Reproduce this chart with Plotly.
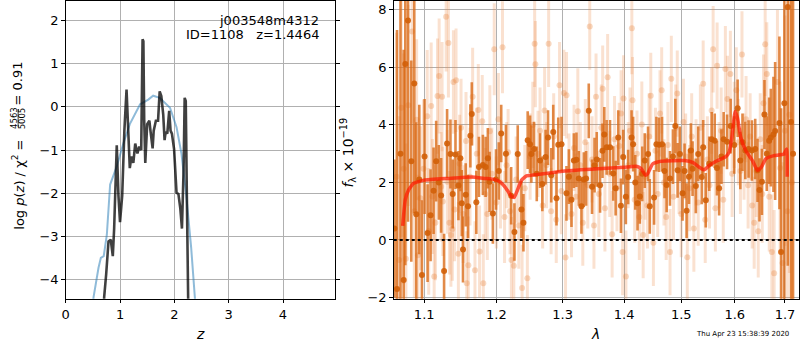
import plotly.graph_objects as go

W, H = 800, 350

# ---------------- left panel: log p(z) ----------------
z_pz = [0.690, 0.708, 0.745, 0.788, 0.830, 0.867, 0.892, 0.940, 0.971, 1.000, 1.040,
        1.080, 1.120, 1.150, 1.180, 1.210, 1.245, 1.280, 1.320, 1.355, 1.390, 1.415,
        1.430, 1.445, 1.465, 1.500, 1.540, 1.560, 1.600, 1.620, 1.660, 1.700, 1.730,
        1.760, 1.795, 1.820, 1.840, 1.870, 1.905, 1.930, 1.955, 1.995, 2.040, 2.075,
        2.110, 2.140, 2.170, 2.190, 2.210, 2.230, 2.250, 2.270]
logp_pz = [-5.5, -4.41, -3.88, -3.12, -3.08, -3.46, -2.82, -0.89, -2.06, -2.67, -2.06,
           -0.55, 0.40, -0.55, -1.42, -1.15, -1.30, -0.85, -1.08, -0.92, -1.00, 1.57,
           1.52, -0.30, -1.30, -0.40, -0.32, -0.55, -0.96, -0.55, -0.32, -0.32, 0.36,
           0.25, -0.17, -0.77, -0.58, -0.62, -0.09, -0.55, -0.62, -0.98, -1.99, -2.02,
           -2.36, -2.82, -1.45, 0.21, 0.14, -2.06, -4.41, -6.0]

z_prior = [0.48, 0.513, 0.604, 0.647, 0.700, 0.757, 0.818, 0.940, 1.060, 1.180, 1.370,
           1.520, 1.610, 1.730, 1.920, 2.040, 2.130, 2.220, 2.310, 2.370, 2.400]
logp_prior = [-4.8, -4.41, -3.73, -3.50, -3.46, -2.97, -1.80, -1.38, -0.85, -0.40, 0.06,
              0.17, 0.26, 0.21, -0.02, -0.47, -1.08, -2.06, -3.27, -4.41, -4.8]

z_ticks = [0, 1, 2, 3, 4]
logp_ticks = [-4, -3, -2, -1, 0, 1, 2]

# ---------------- right panel: spectrum ----------------
lam_light = [1.0640, 1.0672, 1.0700, 1.0731, 1.0760, 1.0790, 1.0840, 1.0870, 1.0900, 1.0917,
             1.0950, 1.0990, 1.1040, 1.1060, 1.1093, 1.1110, 1.1133, 1.1150, 1.1178, 1.1200,
             1.1227, 1.1240, 1.1250, 1.1295, 1.1310, 1.1326, 1.1340, 1.1360, 1.1380, 1.1395,
             1.1410, 1.1431, 1.1463, 1.1480, 1.1500, 1.1530, 1.1569, 1.1579, 1.1602, 1.1625,
             1.1662, 1.1695, 1.1720, 1.1742, 1.1760, 1.1798, 1.1813, 1.1840, 1.1870, 1.1907,
             1.1935, 1.1970, 1.2000, 1.2030, 1.2060, 1.2090, 1.2120, 1.2150, 1.2172, 1.2200,
             1.2221, 1.2256, 1.2290, 1.2330, 1.2379, 1.2420, 1.2458, 1.2500, 1.2540, 1.2568,
             1.2579, 1.2619, 1.2650, 1.2690, 1.2720, 1.2750, 1.2782, 1.2820, 1.2860, 1.2900,
             1.2951, 1.2980, 1.3019, 1.3045, 1.3061, 1.3100, 1.3140, 1.3180, 1.3210, 1.3240,
             1.3280, 1.3320, 1.3360, 1.3400, 1.3432, 1.3470, 1.3500, 1.3534, 1.3580, 1.3620,
             1.3643, 1.3680, 1.3725, 1.3760, 1.3800, 1.3840, 1.3880, 1.3919, 1.3950, 1.3975,
             1.3991, 1.4031, 1.4070, 1.4100, 1.4132, 1.4143, 1.4180, 1.4220, 1.4260, 1.4303,
             1.4326, 1.4360, 1.4400, 1.4430, 1.4458, 1.4504, 1.4540, 1.4580, 1.4620, 1.4650,
             1.4690, 1.4730, 1.4760, 1.4798, 1.4821, 1.4860, 1.4900, 1.4928, 1.4960, 1.5000,
             1.5040, 1.5080, 1.5110, 1.5150, 1.5190, 1.5230, 1.5270, 1.5310, 1.5350, 1.5402,
             1.5440, 1.5480, 1.5520, 1.5560, 1.5588, 1.5630, 1.5663, 1.5700, 1.5740, 1.5780,
             1.5820, 1.5860, 1.5916, 1.5950, 1.5990, 1.6030, 1.6070, 1.6110, 1.6140, 1.6180,
             1.6220, 1.6260, 1.6300, 1.6340, 1.6380, 1.6420, 1.6460, 1.6500, 1.6540, 1.6565,
             1.6598, 1.6631, 1.6680, 1.6732, 1.6779, 1.6846, 1.6900, 1.6950, 1.7000, 1.7050,
             1.7090, 1.7140]
f_light = [2.2, -0.7, 4.6, 2.48, -0.65, 4.68, 7.25, 1.0, 4.18, -0.53,
           1.45, 2.48, 4.30, 0.3, 4.66, 1.51, -1.27, 0.6, 5.0, 5.70,
           1.85, 4.98, 1.34, 7.76, 2.02, 6.85, 0.60, 0.17, 0.38, 5.49,
           1.06, 5.55, -0.48, 2.65, 3.9, 0.9, 3.44, -1.5, -0.88, 2.2,
           4.98, -1.05, 3.0, 4.52, -0.40, 4.13, -1.5, 1.6, 0.9, 3.78,
           2.3, 6.63, 1.3, 4.2, 2.0, 6.70, 0.8, 2.6, 3.05, 1.0,
           -0.7, -0.9, 2.1, 0.5, -1.67, 1.8, -1.33, 2.9, 4.0, 6.82,
           6.11, 2.99, 3.8, 1.2, 4.5, 2.6, 6.82, 1.0, 3.6, 0.7,
           5.38, 1.7, 5.11, -0.61, 5.03, 2.2, 0.9, 3.2, 1.5, 4.47,
           2.6, 0.6, 3.4, 1.9, 7.42, 2.8, 0.5, 4.98, 1.6, 3.9,
           5.26, 1.1, 5.66, 2.3, 0.2, 3.5, 1.8, 3.27, 4.4, -0.42,
           4.92, -1.27, 2.6, 3.8, 7.36, 4.86, 1.4, 3.0, 0.8, 4.01,
           0.17, 2.2, 1.2, 3.6, 5.01, -0.1, 3.1, 1.6, 4.4, 5.20,
           2.0, 0.8, 3.3, -0.42, 5.60, 1.5, 3.9, 5.09, 2.4, 0.9,
           4.1, 2.9, -0.6, 1.8, 3.6, 0.4, 2.7, 1.3, 3.9, 5.43,
           0.7, 2.8, 1.9, 4.5, 6.63, 1.1, 6.06, 2.6, 3.8, 1.4,
           5.94, 4.9, 5.77, 2.3, 4.0, 5.2, 3.4, 2.4, 6.45, 2.9,
           4.2, 1.9, 3.6, 1.2, 0.6, 2.4, 0.3, 3.5, 1.6, 4.75,
           6.80, 5.77, 1.5, -0.42, -1.16, 5.49, 2.5, -0.8, 3.8, 1.0,
           4.35, 2.0]
e_light = [5.0, 5.0, 4.5, 4.0, 4.0, 3.5, 3.2, 3.0, 2.8, 2.8,
           2.5, 2.4, 2.3, 2.2, 2.2, 2.0, 2.0, 2.0, 2.0, 2.0,
           1.9, 1.9, 1.9, 1.9, 1.8, 1.9, 1.8, 1.8, 1.8, 1.8,
           1.8, 1.8, 1.8, 1.7, 1.7, 1.7, 1.7, 1.8, 1.7, 1.7,
           1.7, 1.7, 1.6, 1.6, 1.6, 1.6, 1.7, 1.6, 1.6, 1.6,
           1.6, 1.6, 1.6, 1.6, 1.6, 1.6, 1.6, 1.5, 1.5, 1.5,
           1.5, 1.5, 1.5, 1.5, 1.5, 1.5, 1.5, 1.5, 1.5, 1.5,
           1.5, 1.5, 1.5, 1.5, 1.5, 1.5, 1.5, 1.5, 1.5, 1.5,
           1.5, 1.5, 1.5, 1.5, 1.5, 1.5, 1.5, 1.5, 1.5, 1.5,
           1.5, 1.5, 1.5, 1.5, 1.5, 1.5, 1.5, 1.5, 1.5, 1.5,
           1.5, 1.5, 1.5, 1.5, 1.5, 1.5, 1.5, 1.5, 1.5, 1.5,
           1.5, 1.6, 1.5, 1.5, 1.6, 1.5, 1.5, 1.5, 1.5, 1.5,
           1.5, 1.5, 1.5, 1.5, 1.5, 1.5, 1.5, 1.5, 1.5, 1.5,
           1.5, 1.5, 1.5, 1.5, 1.5, 1.5, 1.5, 1.5, 1.5, 1.5,
           1.5, 1.5, 1.5, 1.5, 1.5, 1.5, 1.5, 1.5, 1.5, 1.5,
           1.5, 1.5, 1.5, 1.5, 1.5, 1.5, 1.5, 1.5, 1.5, 1.5,
           1.5, 1.5, 1.5, 1.5, 1.5, 1.5, 1.5, 1.5, 1.5, 1.5,
           1.5, 1.5, 1.5, 1.5, 1.6, 1.6, 1.6, 1.6, 1.7, 1.7,
           1.8, 1.8, 1.9, 2.0, 2.2, 2.5, 3.0, 3.5, 4.0, 5.0,
           5.5, 6.0]

lam_dark = [1.0612, 1.0645, 1.0690, 1.0731, 1.0752, 1.0787, 1.0830, 1.0869, 1.0895, 1.0935,
            1.0970, 1.1005, 1.1045, 1.1085, 1.1125, 1.1160, 1.1195, 1.1227, 1.1267, 1.1308,
            1.1354, 1.1385, 1.1423, 1.1464, 1.1491, 1.1510, 1.1527, 1.1565, 1.1597, 1.1630,
            1.1650, 1.1714, 1.1751, 1.1807, 1.1846, 1.1878, 1.1903, 1.1950, 1.1995, 1.2036,
            1.2071, 1.2140, 1.2217, 1.2265, 1.2314, 1.2369, 1.2399, 1.2463, 1.2499, 1.2518,
            1.2559, 1.2600, 1.2650, 1.2685, 1.2735, 1.2772, 1.2822, 1.2853, 1.2904, 1.2931,
            1.2982, 1.3060, 1.3098, 1.3139, 1.3177, 1.3218, 1.3256, 1.3298, 1.3336, 1.3373,
            1.3416, 1.3469, 1.3510, 1.3546, 1.3600, 1.3640, 1.3670, 1.3709, 1.3764, 1.3818,
            1.3858, 1.3902, 1.3947, 1.3985, 1.4030, 1.4069, 1.4127, 1.4154, 1.4190, 1.4229,
            1.4268, 1.4310, 1.4354, 1.4411, 1.4441, 1.4516, 1.4557, 1.4603, 1.4656, 1.4700,
            1.4738, 1.4797, 1.4850, 1.4893, 1.4934, 1.4976, 1.5024, 1.5060, 1.5097, 1.5140,
            1.5175, 1.5206, 1.5266, 1.5310, 1.5376, 1.5402, 1.5450, 1.5514, 1.5562, 1.5618,
            1.5660, 1.5701, 1.5745, 1.5788, 1.5852, 1.5921, 1.5990, 1.6056, 1.6108, 1.6150,
            1.6205, 1.6269, 1.6335, 1.6400, 1.6446, 1.6485, 1.6533, 1.6584, 1.6630, 1.6678,
            1.6712, 1.6765, 1.6799, 1.6886, 1.6920, 1.6987, 1.7057, 1.7124, 1.7166]
f_dark = [0.4, -1.70, 3.0, -1.39, 6.12, 7.63, 2.74, 5.44, 0.89, 2.1,
          -1.22, 2.9, 0.24, 0.86, 1.71, 2.74, 2.0, 1.55, -1.08, 3.35,
          2.99, 1.6, 2.97, 1.89, 2.84, 1.28, -0.33, 1.57, 1.17, 3.62,
          4.38, 1.31, 2.54, 2.61, 2.54, 2.84, 2.02, 0.92, 2.1, 2.40,
          3.70, 3.0, 1.54, 0.28, 2.99, 1.06, 0.60, 3.47, 3.33, 2.99,
          3.16, 2.3, 2.76, 1.95, 2.88, 3.56, 2.25, 3.75, 1.45, 3.31,
          3.33, 1.62, 2.2, 1.40, 2.76, 2.79, 2.14, 1.17, 2.10, 2.14,
          4.49, 1.85, 2.6, 2.80, 1.9, 3.1, 3.67, 3.22, 3.22, 2.31,
          1.80, 3.56, 1.19, 2.88, 1.5, 2.19, 3.56, 3.33, 2.0, 1.28,
          1.51, 2.3, 2.76, 2.99, 1.17, 1.48, 3.33, 3.31, 3.33, 2.4,
          1.91, 2.14, 2.9, 3.96, 2.42, 2.99, 1.62, 2.4, 1.02, 2.2,
          3.11, 2.48, 1.88, 2.99, 2.19, 3.22, 1.38, 2.65, 3.50, 3.45,
          2.5, 1.80, 2.9, 3.50, 3.41, 3.96, 3.3, 4.58, 2.76, 3.4,
          3.11, 3.16, 3.11, 3.16, 2.42, 1.74, 2.02, 4.36, 3.0, 3.45,
          3.56, 3.67, 3.79, 4.07, -0.42, 4.75, 8.1, 4.10, 3.0]
e_dark = [2.4, 9.0, 8.0, 8.0, 7.0, 7.0, 3.5, 4.5, 3.2, 2.6,
          2.6, 2.0, 1.7, 1.6, 1.5, 1.4, 1.3, 1.3, 1.3, 1.2,
          1.2, 1.2, 1.2, 1.2, 1.15, 1.15, 1.15, 1.1, 1.1, 1.1,
          1.1, 1.1, 1.05, 1.05, 1.05, 1.05, 1.05, 1.05, 1.05, 1.0,
          1.0, 1.0, 1.0, 1.0, 1.0, 1.0, 1.0, 1.0, 1.0, 1.0,
          0.95, 0.95, 0.95, 0.95, 0.95, 0.95, 0.95, 0.95, 0.95, 0.95,
          0.95, 0.95, 0.95, 0.95, 0.95, 0.95, 0.95, 0.95, 0.95, 0.95,
          0.95, 0.95, 0.95, 0.95, 0.95, 0.95, 0.95, 0.95, 0.95, 0.95,
          0.95, 0.95, 0.95, 0.95, 0.95, 0.95, 0.95, 0.95, 0.95, 0.95,
          0.95, 0.95, 0.95, 0.95, 0.95, 0.95, 0.95, 0.95, 0.95, 0.95,
          0.95, 0.95, 0.95, 0.95, 0.95, 0.95, 0.95, 0.95, 0.95, 0.95,
          0.95, 0.95, 0.95, 0.95, 0.95, 0.95, 0.95, 0.95, 0.95, 0.95,
          0.95, 0.95, 0.95, 0.95, 0.95, 0.95, 1.0, 1.0, 1.0, 1.0,
          1.0, 1.0, 1.05, 1.05, 1.1, 1.1, 1.15, 1.2, 1.3, 1.5,
          1.7, 2.0, 2.4, 3.0, 5.0, 7.0, 9.0, 9.0, 10.0]

lam_model = [1.0718, 1.0752, 1.0795, 1.0860, 1.1000, 1.1327, 1.1649, 1.1837, 1.1980, 1.2053,
             1.2125, 1.2223, 1.2262, 1.2301, 1.2371, 1.2445, 1.2621, 1.3032, 1.3566, 1.4007,
             1.4206, 1.4291, 1.4365, 1.4406, 1.4493, 1.4639, 1.5055, 1.5208, 1.5329, 1.5422,
             1.5515, 1.5672, 1.5829, 1.5892, 1.5944, 1.6007, 1.6053, 1.6117, 1.6215, 1.6345,
             1.6444, 1.6523, 1.6609, 1.6776, 1.6979, 1.7034, 1.7045]
f_model = [0.49, 1.40, 1.74, 1.97, 2.08, 2.14, 2.19, 2.14, 2.10, 2.02,
           1.85, 1.51, 1.48, 1.68, 2.08, 2.23, 2.28, 2.40, 2.48, 2.53,
           2.56, 2.48, 2.25, 2.31, 2.65, 2.74, 2.76, 2.70, 2.53, 2.44,
           2.59, 2.76, 2.90, 3.05, 3.56, 4.47, 4.24, 3.56, 3.10, 2.76,
           2.42, 2.53, 2.82, 2.93, 2.99, 3.16, 2.2]

lam_ticks = [1.1, 1.2, 1.3, 1.4, 1.5, 1.6, 1.7]
lam_ticktext = ["1.1", "1.2", "1.3", "1.4", "1.5", "1.6", "1.7"]
flux_ticks = [-2, 0, 2, 4, 6, 8]

# ---------------- layout helpers (pixel geometry) ----------------
def px(x):
    return x / W

def py(y):
    return 1 - y / H

FONT = "DejaVu Sans"
GRID = "#b0b0b0"

fig = go.Figure()

fig.add_trace(go.Scatter(x=z_prior, y=logp_prior, mode="lines",
                         line=dict(color="rgba(31,119,180,0.5)", width=2),
                         xaxis="x", yaxis="y", showlegend=False, hoverinfo="skip"))
fig.add_trace(go.Scatter(x=z_pz, y=logp_pz, mode="lines",
                         line=dict(color="rgba(0,0,0,0.75)", width=2.6),
                         xaxis="x", yaxis="y", showlegend=False, hoverinfo="skip"))

fig.add_trace(go.Scatter(x=lam_light, y=f_light, mode="markers",
                         marker=dict(color="rgba(232,128,55,0.30)", size=6, line=dict(width=0)),
                         error_y=dict(type="data", array=e_light, visible=True,
                                      color="rgba(234,140,75,0.26)", thickness=3, width=0),
                         xaxis="x2", yaxis="y2", showlegend=False, hoverinfo="skip"))
fig.add_trace(go.Scatter(x=lam_dark, y=f_dark, mode="markers",
                         marker=dict(color="rgba(210,95,8,0.9)", size=6, line=dict(width=0)),
                         error_y=dict(type="data", array=e_dark, visible=True,
                                      color="rgba(218,105,20,0.78)", thickness=2.6, width=0),
                         xaxis="x2", yaxis="y2", showlegend=False, hoverinfo="skip"))
fig.add_trace(go.Scatter(x=lam_model, y=f_model, mode="lines",
                         line=dict(color="rgba(255,25,0,0.72)", width=3.5, shape="spline", smoothing=0.4),
                         xaxis="x2", yaxis="y2", showlegend=False, hoverinfo="skip"))

axis_common = dict(showline=True, linecolor="black", linewidth=1, mirror=True,
                   ticks="outside", ticklen=3.5, tickwidth=1, tickcolor="black",
                   showgrid=True, gridcolor=GRID, gridwidth=1, zeroline=False,
                   tickfont=dict(family=FONT, size=13, color="black"))

fig.update_layout(
    width=W, height=H, autosize=False,
    margin=dict(l=0, r=0, t=0, b=0),
    paper_bgcolor="white", plot_bgcolor="white",
    font=dict(family=FONT, color="black"),
    xaxis=dict(domain=[px(62), px(333)], range=[0, 4.963], tickvals=z_ticks,
               anchor="y", **axis_common),
    yaxis=dict(domain=[py(304), py(1)], range=[-4.449, 2.456], tickvals=logp_ticks,
               anchor="x", **{**axis_common, "mirror": "ticks"}),
    xaxis2=dict(domain=[px(391.7), px(799)], type="log", range=[0.02543, 0.23779],
                tickvals=lam_ticks, ticktext=lam_ticktext, anchor="y2", **axis_common),
    yaxis2=dict(domain=[py(304), py(1)], range=[-2.044, 8.307], tickvals=flux_ticks,
                anchor="x2", **axis_common),
)

# zero line (dotted)
fig.add_shape(type="line", xref="x2 domain", yref="y2", x0=0, x1=1, y0=0, y1=0,
              line=dict(color="black", width=2, dash="dot"), layer="above")

ann = []
ann.append(dict(x=px(318.5), y=py(20.5), xref="paper", yref="paper", text="j003548m4312",
                xanchor="right", yanchor="middle", showarrow=False,
                font=dict(family=FONT, size=13, color="black")))
ann.append(dict(x=px(318.5), y=py(35.5), xref="paper", yref="paper", text="ID=1108   z=1.4464",
                xanchor="right", yanchor="middle", showarrow=False,
                font=dict(family=FONT, size=13, color="black")))
# left y label pieces
ann.append(dict(x=px(14), y=py(188), xref="paper", yref="paper",
                text="log <i>p</i>(<i>z</i>) / χ<sup>2</sup> =", textangle=-90,
                xanchor="center", yanchor="middle", showarrow=False,
                font=dict(family=FONT, size=13, color="black")))
ann.append(dict(x=px(10), y=py(120), xref="paper", yref="paper", text="4563", textangle=-90,
                xanchor="center", yanchor="middle", showarrow=False,
                font=dict(family=FONT, size=8.5, color="black")))
ann.append(dict(x=px(18.5), y=py(120), xref="paper", yref="paper", text="5005", textangle=-90,
                xanchor="center", yanchor="middle", showarrow=False,
                font=dict(family=FONT, size=8.5, color="black")))
ann.append(dict(x=px(14), y=py(85), xref="paper", yref="paper", text="= 0.91", textangle=-90,
                xanchor="center", yanchor="middle", showarrow=False,
                font=dict(family=FONT, size=13, color="black")))
fig.add_shape(type="line", xref="paper", yref="paper", x0=px(14.2), x1=px(14.2),
              y0=py(111), y1=py(129), line=dict(color="black", width=0.8))
# right y label
ann.append(dict(x=px(346), y=py(155), xref="paper", yref="paper",
                text="<i>f</i><sub>λ</sub> × 10<sup>−19</sup>", textangle=-90,
                xanchor="center", yanchor="middle", showarrow=False,
                font=dict(family=FONT, size=14, color="black")))
# x titles
ann.append(dict(x=px(197), y=py(340), xref="paper", yref="paper", text="<i>z</i>",
                xanchor="center", yanchor="middle", showarrow=False,
                font=dict(family=FONT, size=14, color="black")))
ann.append(dict(x=px(594), y=py(340), xref="paper", yref="paper", text="<i>λ</i>",
                xanchor="center", yanchor="middle", showarrow=False,
                font=dict(family=FONT, size=14, color="black")))
# timestamp
ann.append(dict(x=px(742), y=py(339.5), xref="paper", yref="paper",
                text="Thu Apr 23 15:38:39 2020",
                xanchor="center", yanchor="middle", showarrow=False,
                font=dict(family=FONT, size=7, color="black")))
fig.update_layout(annotations=ann)

page_fix = (
    "document.documentElement.style.cssText='margin:0;padding:0;height:350px;overflow:hidden;';"
    "document.body.style.cssText='margin:0;padding:0;height:350px;overflow:hidden;';"
)
fig.write_html("out.html", config={"displayModeBar": False}, post_script=page_fix)
